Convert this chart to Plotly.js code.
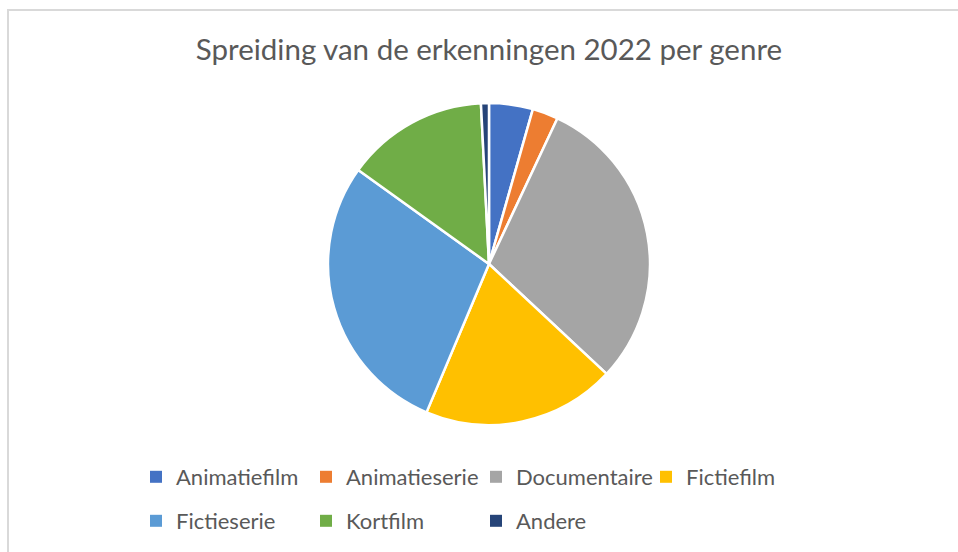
<!DOCTYPE html>
<html>
<head>
<meta charset="utf-8">
<script src="https://cdn.plot.ly/plotly-3.0.1.min.js"></script>
<style>
  html, body { margin: 0; padding: 0; background: #fff; }
  #wrap { position: relative; width: 958px; height: 552px; overflow: hidden; }
  #chart { position: absolute; left: 0; top: 0; width: 958px; height: 552px; }
  #frame { position: absolute; left: 7px; top: 9px; width: 980px; height: 580px;
           border: 2px solid #d9d9d9; pointer-events: none; }
</style>
</head>
<body>
<div id="wrap">
  <div id="chart"></div>
  <div id="frame"></div>
</div>
<script>
var genres = ["Animatiefilm", "Animatieserie", "Documentaire", "Fictiefilm",
              "Fictieserie", "Kortfilm", "Andere"];
// share of accreditations (%)
var shares = [4.4, 2.6, 30.0, 19.4, 28.6, 14.3, 0.8];
var sliceColors = ["#4472C4", "#ED7D31", "#A5A5A5", "#FFC000",
                   "#5B9BD5", "#70AD47", "#264478"];

// legend is split in two rows like the original (4 + 3 entries)
function legendTrace(from, to, legendId) {
    return {
        type: "pie",
        labels: genres.slice(from, to),
        values: shares.slice(from, to),
        sort: false,
        textinfo: "none",
        hoverinfo: "skip",
        marker: { colors: sliceColors.slice(from, to), line: { width: 0 } },
        domain: { x: [0.5, 0.5001], y: [0.5, 0.5001] },
        legend: legendId
    };
}

var mainPie = {
    type: "pie",
    labels: genres,
    values: shares,
    sort: false,
    direction: "clockwise",
    rotation: 0,
    textinfo: "none",
    hoverinfo: "label+percent",
    showlegend: false,
    marker: {
        colors: sliceColors,
        line: { color: "#ffffff", width: 2.5 }
    },
    domain: { x: [0.2723, 0.7291], y: [0.2301, 0.8134] }
};

var legendStyle = function (yPx) {
    return {
        orientation: "h",
        x: 0,
        xanchor: "left",
        y: 1 - yPx / 552,
        yanchor: "middle",
        entrywidth: 125,
        entrywidthmode: "pixels",
        font: { size: 22, color: "#595959" },
        traceorder: "normal"
    };
};

var layout = {
    width: 958,
    height: 552,
    margin: { l: 136, r: 117, t: 0, b: 0 },
    paper_bgcolor: "#ffffff",
    font: { family: "Lato, 'Open Sans', sans-serif", color: "#595959" },
    title: {
        text: "Spreiding van de erkenningen 2022 per genre",
        font: { size: 29.5, color: "#595959" },
        x: 0.5104,
        xref: "container",
        xanchor: "center",
        y: 1 - 50 / 552,
        yref: "container",
        yanchor: "middle"
    },
    showlegend: true,
    legend: legendStyle(477),
    legend2: legendStyle(521)
};

Plotly.newPlot("chart",
    [legendTrace(0, 4, "legend"), legendTrace(4, 7, "legend2"), mainPie],
    layout, { displayModeBar: false, staticPlot: true });
</script>
</body>
</html>
